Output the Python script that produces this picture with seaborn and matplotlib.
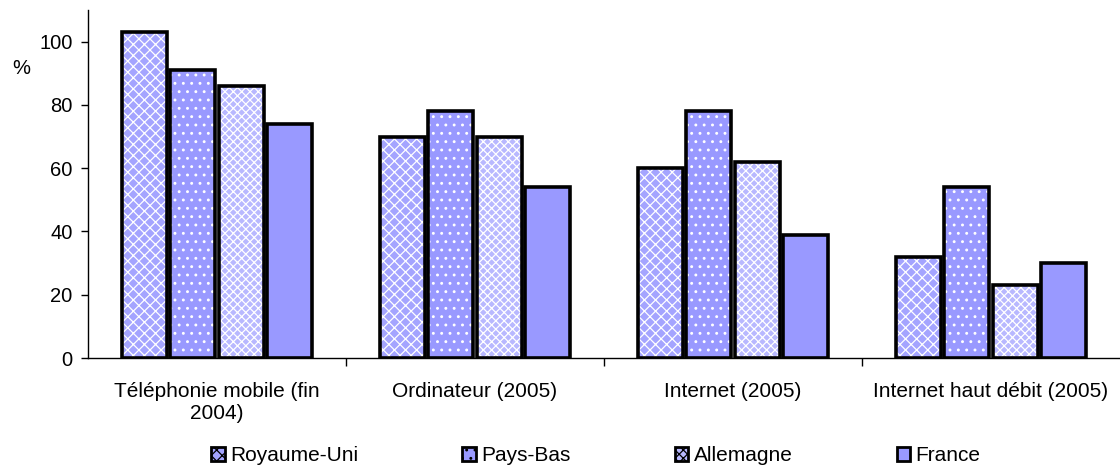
import pandas as pd
import matplotlib
matplotlib.use("Agg")
import matplotlib.pyplot as plt
from matplotlib.patches import Rectangle, Patch
import seaborn as sns

# Data
categories = ["Téléphonie mobile (fin\n2004)", "Ordinateur (2005)",
              "Internet (2005)", "Internet haut débit (2005)"]
countries = ["Royaume-Uni", "Pays-Bas", "Allemagne", "France"]
royaume_uni = [103, 70, 60, 32]
pays_bas = [91, 78, 78, 54]
allemagne = [86, 70, 62, 23]
france = [74, 54, 39, 30]

# Styling per country
face_colors = ["#a4a4ff", "#9999ff", "#b8b8ff", "#9999ff"]
hatches = ["xxx", "..", "xxxx", ""]

df = pd.DataFrame({
    "cat": categories * 4,
    "country": [c for c in countries for _ in categories],
    "val": royaume_uni + pays_bas + allemagne + france,
})

sns.set_style("white")
plt.rcParams["font.family"] = ["Liberation Sans", "DejaVu Sans"]
plt.rcParams["text.color"] = "black"
plt.rcParams["xtick.color"] = "black"
plt.rcParams["ytick.color"] = "black"
plt.rcParams["hatch.linewidth"] = 0.9

fig = plt.figure(figsize=(11.2, 4.68), dpi=100)
ax = fig.add_axes([88 / 1120, 1 - 358 / 468, 1 - 88 / 1120, 348 / 468])

sns.barplot(data=df, x="cat", y="val", hue="country", order=categories,
            hue_order=countries, palette=face_colors, saturation=1,
            width=0.75, gap=0.07, linewidth=0, edgecolor="white",
            legend=False, ax=ax)

# hatch in white, then a black outline drawn on top
for i, cont in enumerate(ax.containers):
    for bar in cont:
        bar.set_hatch(hatches[i])
        bar.set_edgecolor("white")
        bar.set_linewidth(0)
        ax.add_patch(Rectangle(bar.get_xy(), bar.get_width(), bar.get_height(),
                               fill=False, edgecolor="black", lw=2.6, zorder=3))

ax.set_ylim(0, 110)
ax.set_xlim(-0.5, 3.5)
ax.set_yticks([0, 20, 40, 60, 80, 100])
ax.set_xlabel("")
ax.set_ylabel("")

for s in ["top", "right"]:
    ax.spines[s].set_visible(False)
for s in ["left", "bottom"]:
    ax.spines[s].set_color("black")
    ax.spines[s].set_linewidth(1)

ax.tick_params(axis="y", direction="out", length=5, width=1,
               labelsize=14.5, pad=6, left=True)
ax.tick_params(axis="x", which="major", length=0, labelsize=15, pad=17)
ax.set_xticks([0.5, 1.5, 2.5], minor=True)
ax.tick_params(axis="x", which="minor", direction="out", length=6, width=1,
               bottom=True)

fig.text(21 / 1120, 1 - 68 / 468, "%", fontsize=14.5, ha="center", va="center")

handles = [Patch(facecolor=face_colors[i], hatch=hatches[i], edgecolor="black",
                 linewidth=2, label=countries[i]) for i in range(4)]
fig.legend(handles=handles, loc="center", bbox_to_anchor=(0.532, 0.026),
           ncol=4, frameon=False, fontsize=15, handlelength=0.65,
           handleheight=0.65, handletextpad=0.25, columnspacing=5.0,
           borderpad=0.1)

fig.savefig("out.png", dpi=100)
